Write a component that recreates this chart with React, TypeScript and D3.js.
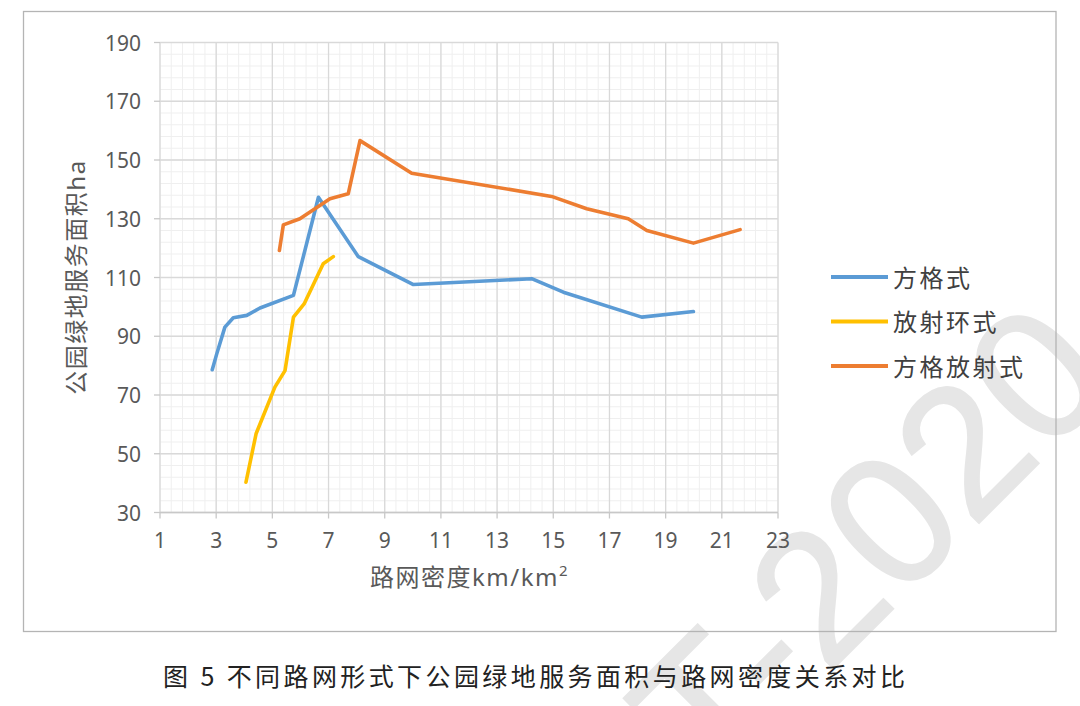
import * as d3 from 'd3'

// road-network density (km/km2) vs park service area (ha)
const gridX = [2.86, 3.02, 3.31, 3.61, 4.09, 4.56, 5.75, 6.64, 8.06, 10.02, 14.23, 15.36, 18.15, 19.99]
const gridY = [78.6, 84.0, 93.1, 96.3, 97.1, 99.6, 103.9, 137.3, 117.1, 107.6, 109.6, 105.0, 96.5, 98.4]

const ringX = [4.06, 4.42, 5.09, 5.45, 5.75, 6.13, 6.81, 7.17]
const ringY = [40.3, 56.8, 72.7, 78.3, 96.5, 101.0, 114.7, 117.1]

const mixX = [5.25, 5.39, 5.98, 7.05, 7.70, 8.12, 9.96, 14.94, 16.19, 17.67, 18.33, 19.99, 21.65]
const mixY = [119.2, 127.9, 130.0, 136.8, 138.5, 156.6, 145.5, 137.6, 133.4, 130.0, 126.0, 121.7, 126.3]

const seriesNames = ['方格式', '放射环式', '方格放射式']
const seriesColors = ['#5B9BD5', '#FFC000', '#ED7D31']

const xTicks = [1, 3, 5, 7, 9, 11, 13, 15, 17, 19, 21, 23]
const yTicks = [30, 50, 70, 90, 110, 130, 150, 170, 190]

const yTitle = '公园绿地服务面积ha'
const xTitle = '路网密度km/km'
const caption = '图 5 不同路网形式下公园绿地服务面积与路网密度关系对比'
const watermark = 'T-2020'

const W = 1080
const H = 706
const sans = "'Noto Sans', 'Noto Sans CJK SC', sans-serif"

export default function App() {
  const x = d3.scaleLinear().domain([1, 23]).range([160, 778])
  const y = d3.scaleLinear().domain([30, 190]).range([512.5, 42.5])

  const series = [
    gridX.map((v, i) => [v, gridY[i]] as [number, number]),
    ringX.map((v, i) => [v, ringY[i]] as [number, number]),
    mixX.map((v, i) => [v, mixY[i]] as [number, number]),
  ]
  const line = d3.line<[number, number]>().x(d => x(d[0])).y(d => y(d[1]))

  const minorX = d3.range(1, 23.001, 0.4)
  const minorY = d3.range(30, 190.001, 4)
  const [x0, x1] = x.range()
  const [y0, y1] = y.range()

  const legendY = [277, 321.5, 366]

  return (
    <svg width={W} height={H} style={{ position: 'absolute', left: 0, top: 0, background: '#fff' }}>
      <rect x={0} y={0} width={W} height={H} fill="#fff" />

      {/* watermark */}
      <text
        transform="translate(1118,384) rotate(-45)"
        textAnchor="end"
        fontFamily="'Liberation Sans', Arial, sans-serif"
        fontSize={185}
        fill="#e6e6e6"
        stroke="#e6e6e6"
        strokeWidth={2}
      >{watermark}</text>

      <rect x={23.5} y={11.5} width={1032.5} height={620} fill="none" stroke="#b4b4b4" strokeWidth={1.3} />

      {/* minor grid */}
      <g stroke="#efefef" strokeWidth={1}>
        {minorX.map((v, i) => (
          <line key={'mx' + i} x1={x(v)} x2={x(v)} y1={y1} y2={y0} />
        ))}
        {minorY.map((v, i) => (
          <line key={'my' + i} x1={x0} x2={x1} y1={y(v)} y2={y(v)} />
        ))}
      </g>
      {/* major grid */}
      <g stroke="#d9d9d9" strokeWidth={1.3}>
        {xTicks.map(v => (
          <line key={'gx' + v} x1={x(v)} x2={x(v)} y1={y1} y2={y0} />
        ))}
        {yTicks.map(v => (
          <line key={'gy' + v} x1={x0} x2={x1} y1={y(v)} y2={y(v)} />
        ))}
      </g>
      {/* axes ticks */}
      <g stroke="#c8c8c8" strokeWidth={1.3}>
        <line x1={x0} x2={x1} y1={y0} y2={y0} />
        {xTicks.map(v => (
          <line key={'tx' + v} x1={x(v)} x2={x(v)} y1={y0} y2={y0 + 6} />
        ))}
        {yTicks.map(v => (
          <line key={'ty' + v} x1={x0 - 6} x2={x0} y1={y(v)} y2={y(v)} />
        ))}
      </g>
      <g fontFamily={sans} fontSize={21} fill="#595959">
        {xTicks.map(v => (
          <text key={'lx' + v} x={x(v)} y={548} textAnchor="middle">{v}</text>
        ))}
        {yTicks.map(v => (
          <text key={'ly' + v} x={141} y={y(v) + 8} textAnchor="end">{v}</text>
        ))}
      </g>

      {/* series */}
      {series.map((s, i) => (
        <path
          key={'s' + i}
          d={line(s) || ''}
          fill="none"
          stroke={seriesColors[i]}
          strokeWidth={3.6}
          strokeLinejoin="round"
          strokeLinecap="round"
        />
      ))}

      {/* axis titles */}
      <text
        transform="translate(75,277) rotate(-90)"
        textAnchor="middle"
        dominantBaseline="central"
        fontFamily={sans}
        fontSize={24}
        letterSpacing={1.5}
        fill="#595959"
      >{yTitle}</text>
      <text x={370} y={586} fontFamily={sans} fontSize={24} letterSpacing={1.5} fill="#595959">
        {xTitle}
        <tspan fontSize={15} dy={-10}>2</tspan>
      </text>

      {/* legend */}
      {seriesNames.map((name, i) => (
        <g key={'lg' + i}>
          <line x1={831} x2={888} y1={legendY[i]} y2={legendY[i]} stroke={seriesColors[i]} strokeWidth={4} />
          <text
            x={893}
            y={legendY[i]}
            dominantBaseline="central"
            fontFamily={sans}
            fontSize={24}
            letterSpacing={2.5}
            fill="#404040"
          >{name}</text>
        </g>
      ))}

      {/* caption */}
      <text
        x={163}
        y={686}
        textLength={742}
        lengthAdjust="spacing"
        fontFamily="'Noto Sans CJK SC', sans-serif"
        fontSize={25}
        fill="#222"
      >{caption}</text>
    </svg>
  )
}
